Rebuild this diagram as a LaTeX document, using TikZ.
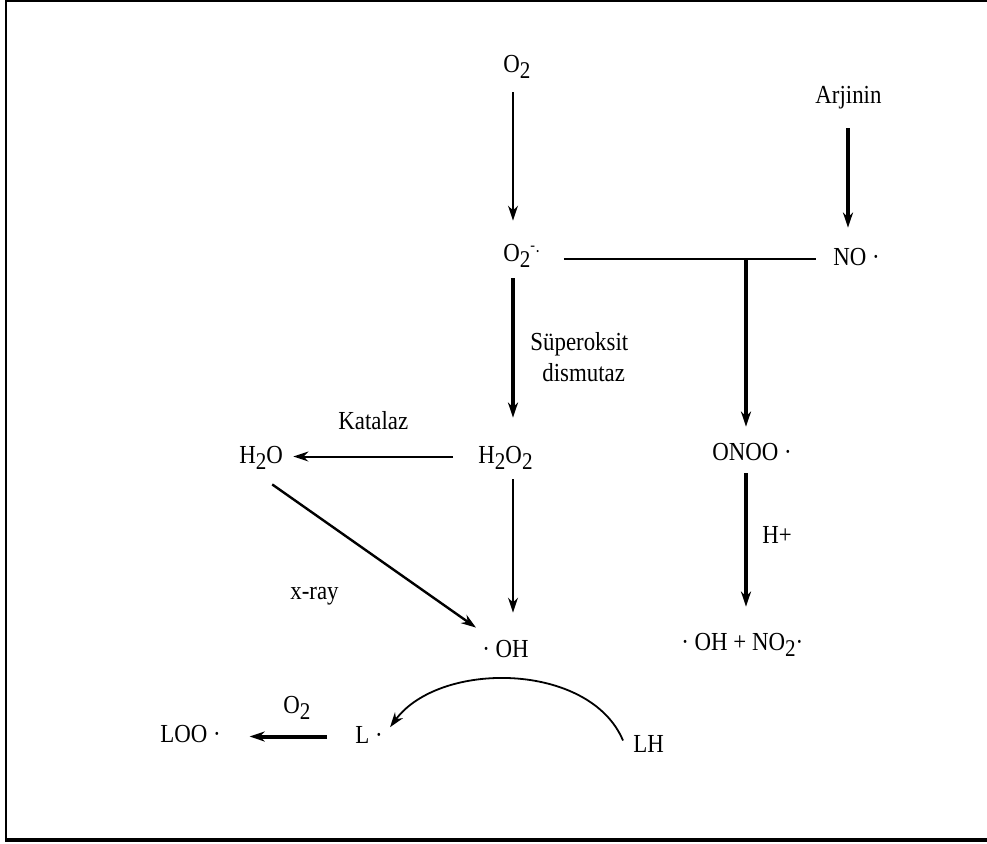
\documentclass[tikz,border=0pt]{standalone}
\usepackage{fontspec}
\setmainfont[FakeStretch=0.88]{Liberation Serif}
\usetikzlibrary{arrows.meta}
% lowered digit for chemical formulas
\newcommand\chsub[1]{\raisebox{-3pt}{\fontsize{12}{12}\selectfont #1}}
% superoxide radical-anion mark
\newcommand\radan{\raisebox{5.5pt}{\fontsize{8}{8}\selectfont -}\raisebox{2pt}{\fontsize{9}{9}\selectfont ·}}
\begin{document}
\begin{tikzpicture}[x=0.5pt,y=-0.5pt,
  lbl/.style={inner sep=0pt,anchor=base west,text height=8.5pt,text depth=2pt,
    font=\fontsize{13}{15}\selectfont},
  tip/.style={-{Stealth[length=7.5pt,width=5pt]}},
  thinarr/.style={tip,line width=1pt},
  thickarr/.style={tip,line width=2pt},
]
\useasboundingbox (0,0) rectangle (987,843);
\clip (0,0) rectangle (987,843);

% frame
\draw[line width=1pt] (1000,1) -- (6,1) -- (6,840);
\draw[line width=2pt] (5,840) -- (1000,840);

% species and labels
\node[lbl] (o2)   at (503,72)  {O\chsub{2}};
\node[lbl] (o2r)  at (503,261) {O\chsub{2}\radan};
\node[lbl] (arj)  at (815,103) {Arjinin};
\node[lbl] (no)   at (833,265) {NO ·};
\node[lbl] (sod1) at (530,350) {Süperoksit};
\node[lbl] (sod2) at (542,381) {dismutaz};
\node[lbl] (kat)  at (338,429) {Katalaz};
\node[lbl] (h2o)  at (239,463) {H\chsub{2}O};
\node[lbl] (h2o2) at (478,463) {H\chsub{2}O\chsub{2}};
\node[lbl] (xray) at (290,599) {x-ray};
\node[lbl] (onoo) at (712,460) {ONOO ·};
\node[lbl] (hplus) at (762,543) {H+};
\node[lbl] (prod) at (681,650) {· OH + NO\chsub{2}·};
\node[lbl] (oh)   at (482,657) {· OH};
\node[lbl] (loo)  at (160,742) {LOO ·};
\node[lbl] (o2b)  at (283,713) {O\chsub{2}};
\node[lbl] (l)    at (355,743) {L ·};
\node[lbl] (lh)   at (633,752) {LH};

% column guides for the vertical arrows
\coordinate (c1) at (513,0);
\coordinate (c2) at (746,0);
\coordinate (c3) at (848,0);

% connectors
\draw[thinarr, shorten <=8pt, shorten >=11.5pt] (o2.south -| c1) -- (o2r.north -| c1);
\draw[thickarr, shorten <=10.5pt, shorten >=10pt] (arj.south -| c3) -- (no.north -| c3);
\draw[line width=1pt, shorten <=11.5pt, shorten >=8.5pt] (o2r.east |- no.west) -- (no.west);
\coordinate (j) at (c2 |- no.west);
\draw[thickarr, shorten >=8pt] (j) -- (onoo.north -| c2);
\draw[thickarr, shorten <=6.5pt, shorten >=14pt] (o2r.south -| c1) -- (h2o2.north -| c1);
\draw[thinarr, shorten <=12.5pt, shorten >=5pt] (h2o2.west) -- (h2o.east |- h2o2.west);
\draw[thinarr, line width=1.2pt] ([shift={(11,17)}]h2o.south) -- ([shift={(-6,-12)}]oh.north west);
\draw[thinarr, shorten <=6pt, shorten >=13.5pt] (h2o2.south -| c1) -- (oh.north -| c1);
\draw[thickarr, shorten <=4.5pt, shorten >=13pt] (onoo.south -| c2) -- (prod.north -| c2);
\draw[thickarr, shorten <=14pt, shorten >=14.25pt] (l.west) -- (l.west -| loo.east);
\draw[thinarr, line width=0.9pt, shorten >=5.8pt] ([shift={(-10,-5)}]lh.west)
  .. controls (590,662) and (440,660) .. (l.east);
\end{tikzpicture}
\end{document}
